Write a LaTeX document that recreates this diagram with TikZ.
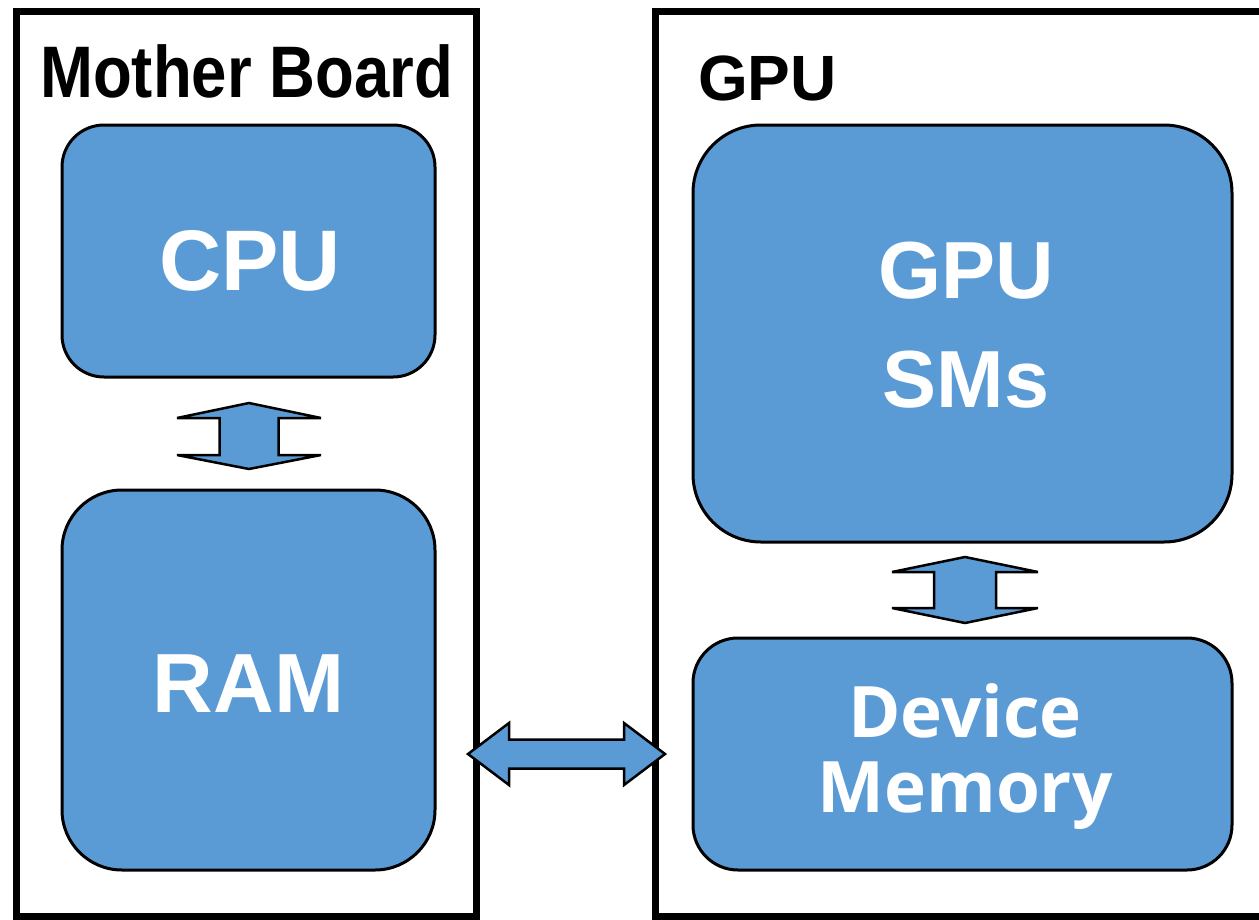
\documentclass[tikz,border=0pt]{standalone}
\usepackage{fontspec}
\setmainfont{Liberation Sans}
\newfontfamily\titlefont{Liberation Sans}[FakeStretch=0.87]
\newfontfamily\osans{Open Sans}
\usetikzlibrary{calc}
\definecolor{boxblue}{HTML}{5B9BD5}
\begin{document}
\begin{tikzpicture}[x=1pt,y=-1pt,
  frame/.style={draw=black, line width=7pt, rectangle, inner sep=0pt},
  hw/.style={draw=black, line width=3pt, fill=boxblue, rectangle, inner sep=0pt},
  lbl/.style={text=white, inner sep=0pt, anchor=base},
  blockarrow/.style={draw=black, line width=2.5pt, fill=boxblue, line join=miter, miter limit=4},
  ]
\useasboundingbox (0,0) rectangle (1259,919);
% frames
\node[frame, minimum width=460pt, minimum height=905pt] (mb) at (246,463.5) {};
\node[frame, minimum width=615pt, minimum height=905pt] (gpu) at (962.5,463.5) {};
% titles
\node[anchor=base west, inner sep=0pt, font=\titlefont\bfseries\fontsize{73}{80}\selectfont] (mbt) at (40,97) {Mother Board};
\node[anchor=base west, inner sep=0pt, font=\bfseries\fontsize{64}{72}\selectfont] (gput) at (698,100) {GPU};
% boxes
\node[hw, minimum width=373pt, minimum height=252pt, rounded corners=42pt] (cpu) at (248.5,251) {};
\node[hw, minimum width=373pt, minimum height=380pt, rounded corners=60pt] (ram) at (248.5,680) {};
\node[hw, minimum width=539pt, minimum height=417pt, rounded corners=68pt] (sms) at (962.5,333.5) {};
\node[hw, minimum width=539pt, minimum height=232pt, rounded corners=45pt] (dmem) at (962.5,754) {};
% labels
\node[lbl, font=\bfseries\fontsize{86}{90}\selectfont] (cpul) at (250,290) {CPU};
\node[lbl, font=\bfseries\fontsize{84}{90}\selectfont] (raml) at (248.5,712) {RAM};
\node[lbl, align=center, font=\bfseries\fontsize{81}{109}\selectfont] (smsl) at (966,407) {GPU\\SMs};
\node[lbl, align=center, font=\osans\bfseries\fontsize{71}{75}\selectfont] (dml) at (965,812) {Device\\Memory};
% block arrows
\coordinate (a1) at ($(cpu.south)!0.5!(ram.north)+(0.5,2.5)$);
\coordinate (a2) at ($(sms.south)!0.5!(dmem.north)+(2.5,0)$);
\coordinate (a3) at ($(mb.east)!0.5!(gpu.west)+(1,290.5)$);
\draw[blockarrow, shift={(a1)}] (0,-33) -- (72,-18) -- (29.5,-18) -- (29.5,19) -- (72,19) -- (0,33)
  -- (-72,19) -- (-29.5,19) -- (-29.5,-18) -- (-72,-18) -- cycle;
\draw[blockarrow, shift={(a2)}] (0,-33) -- (73,-18) -- (31,-18) -- (31,18) -- (73,18) -- (0,33)
  -- (-73,18) -- (-31,18) -- (-31,-18) -- (-73,-18) -- cycle;
\draw[blockarrow, shift={(a3)}] (-98.5,0) -- (-57.5,-31) -- (-57.5,-14.5) -- (57.5,-14.5) -- (57.5,-31) -- (98.5,0)
  -- (57.5,31) -- (57.5,14.5) -- (-57.5,14.5) -- (-57.5,31) -- cycle;
\end{tikzpicture}
\end{document}
